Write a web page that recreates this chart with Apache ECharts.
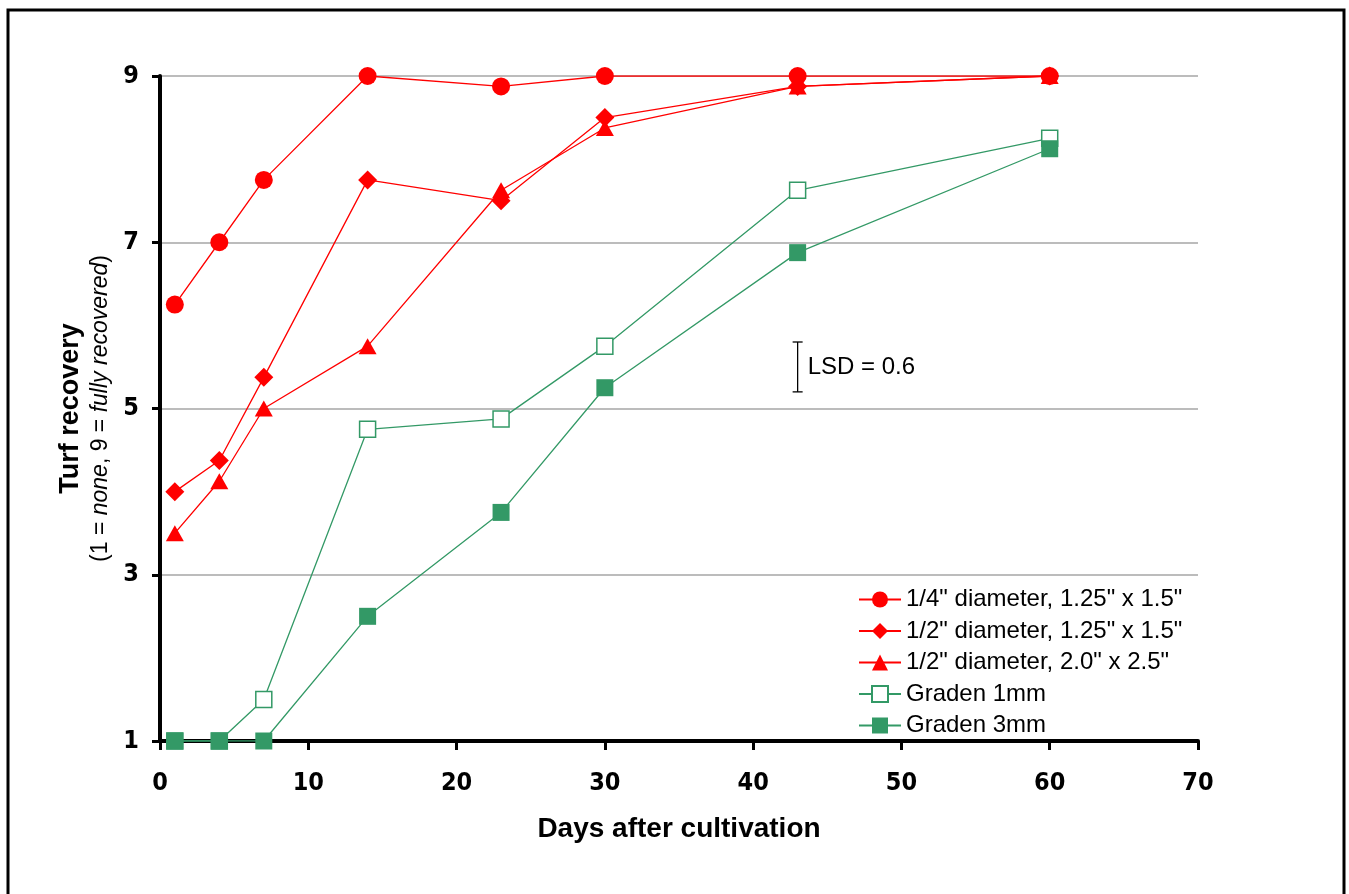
<!DOCTYPE html>
<html><head><meta charset="utf-8">
<script src="https://cdn.jsdelivr.net/npm/echarts@6/dist/echarts.min.js"></script>
<style>html,body{margin:0;padding:0;background:#fff}#c{width:1349px;height:894px}</style>
</head><body><div id="c"></div>
<script>
// ---- data ----
const days = [1, 4, 7, 14, 23, 30, 43, 60];
const seriesNames = [
  '1/4" diameter, 1.25" x 1.5"',
  '1/2" diameter, 1.25" x 1.5"',
  '1/2" diameter, 2.0" x 2.5"',
  'Graden 1mm',
  'Graden 3mm'
];
const quarterDia125 = [6.25, 7.0, 7.75, 9.0, 8.875, 9.0, 9.0, 9.0];
const halfDia125    = [4.0, 4.375, 5.375, 7.75, 7.5, 8.5, 8.875, 9.0];
const halfDia20     = [3.5, 4.125, 5.0, 5.75, 7.625, 8.375, 8.875, 9.0];
const graden1mm     = [1.0, 1.0, 1.5, 4.75, 4.875, 5.75, 7.625, 8.25];
const graden3mm     = [1.0, 1.0, 1.0, 2.5, 3.75, 5.25, 6.875, 8.125];
const yTickValues   = [1, 3, 5, 7, 9];
const lsdDay = 43;
const lsdRange = [5.2, 5.8];
const lsdText = 'LSD = 0.6';

// ---- styling ----
const RED = '#FF0000';
const GREEN = '#339966';
const SANS = '"Liberation Sans", Arial, sans-serif';
const NARROW = '"Liberation Sans Narrow", "DejaVu Sans Condensed", sans-serif';
const pair = arr => days.map((d, i) => [d, arr[i]]);

function lineSeries(name, data, color, symbol, size, fill) {
  return {
    name, type: 'line', data: pair(data),
    symbol, symbolSize: size,
    lineStyle: { color, width: 1.3 },
    itemStyle: { color: fill || color, borderColor: color, borderWidth: fill ? 1.5 : 0 },
    emphasis: { disabled: true },
    z: 3
  };
}

const chart = echarts.init(document.getElementById('c'), null, { renderer: 'canvas' });
chart.setOption({
  animation: false,
  backgroundColor: '#fff',
  graphic: [{
    type: 'rect', shape: { x: 8, y: 10, width: 1336, height: 900 },
    style: { fill: 'none', stroke: '#000', lineWidth: 3 }, silent: true, z: -1
  }],
  grid: { left: 160, right: 151, top: 76, bottom: 153, containLabel: false },
  legend: {
    data: seriesNames,
    orient: 'vertical',
    left: 853, top: 582,
    itemWidth: 42, itemHeight: 20, itemGap: 6.5,
    textStyle: { fontFamily: SANS, fontSize: 24, lineHeight: 25, color: '#000' }
  },
  xAxis: {
    type: 'value', min: 0, max: 70, interval: 10,
    name: 'Days after cultivation', nameLocation: 'middle', nameGap: 74,
    nameTextStyle: { fontFamily: SANS, fontWeight: 'bold', fontSize: 28, color: '#000' },
    axisLine: { show: true, onZero: false, lineStyle: { color: '#000', width: 4 } },
    axisTick: { show: true, inside: false, length: 9, lineStyle: { color: '#000', width: 3 } },
    axisLabel: { margin: 30, fontFamily: NARROW, fontWeight: 'bold', fontSize: 25, color: '#000' },
    splitLine: { show: false }
  },
  yAxis: {
    type: 'value', min: 1, max: 9,
    name: '{t|Turf recovery}\n{s|(1 = }{i|none}{s|, 9 = }{i|fully recovered}{s|)}',
    nameLocation: 'middle', nameRotate: 90, nameGap: 37,
    nameTextStyle: {
      rich: {
        t: { fontFamily: SANS, fontWeight: 'bold', fontSize: 27, color: '#000', lineHeight: 30 },
        s: { fontFamily: SANS, fontSize: 23, color: '#000', lineHeight: 30 },
        i: { fontFamily: SANS, fontStyle: 'italic', fontSize: 23, color: '#000', lineHeight: 30 }
      }
    },
    axisLine: { show: true, onZero: false, lineStyle: { color: '#000', width: 4 } },
    axisTick: { show: true, inside: false, length: 8, customValues: yTickValues, lineStyle: { color: '#000', width: 3 } },
    axisLabel: { margin: 21, customValues: yTickValues, fontFamily: NARROW, fontWeight: 'bold', fontSize: 25, color: '#000' },
    splitLine: { show: true, lineStyle: { color: '#A6A6A6', width: 1.5 } }
  },
  series: [
    lineSeries(seriesNames[0], quarterDia125, RED, 'circle', 18),
    lineSeries(seriesNames[1], halfDia125, RED, 'diamond', 19),
    lineSeries(seriesNames[2], halfDia20, RED, 'triangle', [18, 16]),
    lineSeries(seriesNames[3], graden1mm, GREEN, 'rect', 16, '#fff'),
    lineSeries(seriesNames[4], graden3mm, GREEN, 'rect', 17),
    {
      type: 'custom', name: 'LSD', silent: true, clip: false,
      data: [[lsdDay, lsdRange[0], lsdRange[1]]],
      encode: { x: 0, y: [1, 2] },
      renderItem(params, api) {
        const lo = api.coord([api.value(0), api.value(1)]);
        const hi = api.coord([api.value(0), api.value(2)]);
        const st = { stroke: '#000', lineWidth: 1.3 };
        return {
          type: 'group', children: [
            { type: 'line', shape: { x1: hi[0], y1: hi[1], x2: lo[0], y2: lo[1] }, style: st },
            { type: 'line', shape: { x1: hi[0] - 5, y1: hi[1], x2: hi[0] + 5, y2: hi[1] }, style: st },
            { type: 'line', shape: { x1: lo[0] - 5, y1: lo[1], x2: lo[0] + 5, y2: lo[1] }, style: st },
            { type: 'text', style: { text: lsdText, x: hi[0] + 10, y: (hi[1] + lo[1]) / 2, align: 'left', verticalAlign: 'middle', fontFamily: SANS, fontSize: 24, fill: '#000' } }
          ]
        };
      }
    }
  ]
});
</script>
</body></html>
